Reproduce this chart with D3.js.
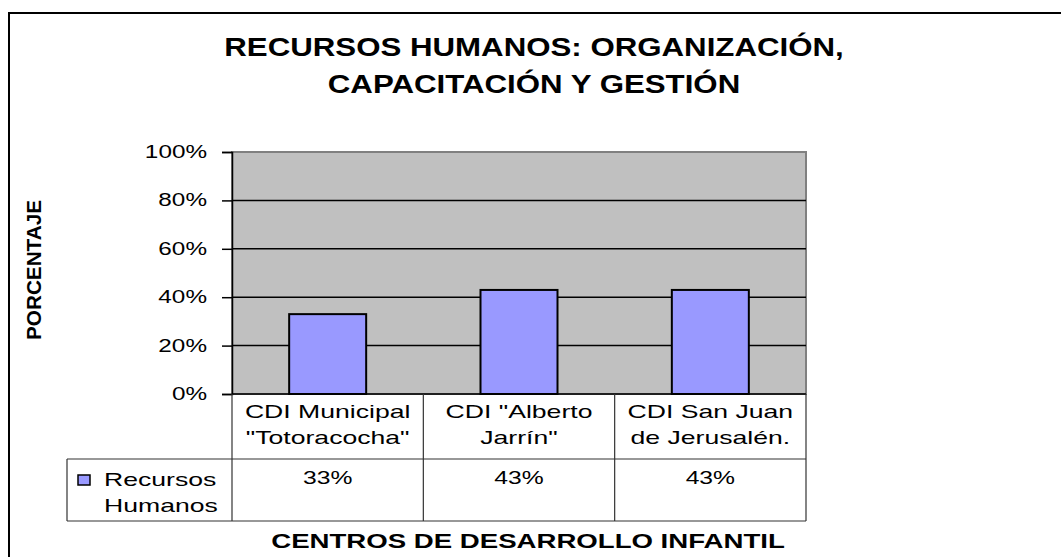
<!DOCTYPE html>
<html>
<head>
<meta charset="utf-8">
<script src="https://cdn.jsdelivr.net/npm/d3@7"></script>
<style>
    body { margin: 0; background: #fff; }
    svg { display: block; font-family: "Liberation Sans", Arial, sans-serif; }
</style>
</head>
<body>
<div id="my-dataviz"></div>
<script>
const categories = [
    ["CDI Municipal", "\"Totoracocha\""],
    ["CDI \"Alberto", "Jarrín\""],
    ["CDI San Juan", "de Jerusalén."]
];
const seriesName = ["Recursos", "Humanos"];
const values = [0.33, 0.43, 0.43];
const yTicks = [0, 0.2, 0.4, 0.6, 0.8, 1];
const titleLines = ["RECURSOS HUMANOS: ORGANIZACIÓN,", "CAPACITACIÓN Y GESTIÓN"];
const yTitle = "PORCENTAJE";
const xTitle = "CENTROS DE DESARROLLO INFANTIL";

let width = 1061, height = 557;
let plot = {left: 232, right: 806, top: 152, bottom: 394};
let row1 = 459, row2 = 521, legendLeft = 67;

let svg = d3.select("#my-dataviz")
    .append("svg")
    .attr("width", width)
    .attr("height", height);

// outer chart frame
svg.append("rect")
    .attr("x", 9).attr("y", 13)
    .attr("width", width).attr("height", height)
    .attr("fill", "none")
    .attr("stroke", "#000")
    .attr("stroke-width", 2);

// the source picture is stretched sideways, so text gets a horizontal scale
function addText(x, y, txt, size, sx, weight, anchor) {
    return svg.append("text")
        .attr("transform", "translate(" + x + "," + y + ") scale(" + sx + ",1)")
        .attr("text-anchor", anchor || "middle")
        .style("font-size", size + "px")
        .style("font-weight", weight || "normal")
        .attr("fill", "#000")
        .text(txt);
}

// title
titleLines.forEach((t, i) => addText(534, 56 + i * 37, t, 25, 1.25, "bold"));

let x = d3.scaleBand()
    .domain(d3.range(categories.length))
    .range([plot.left, plot.right])
    .paddingInner(0)
    .paddingOuter(0);

let y = d3.scaleLinear()
    .domain([0, 1])
    .range([plot.bottom, plot.top]);

// plot area
svg.append("rect")
    .attr("x", plot.left).attr("y", plot.top)
    .attr("width", plot.right - plot.left)
    .attr("height", plot.bottom - plot.top)
    .attr("fill", "#c0c0c0")
    .attr("stroke", "#808080")
    .attr("stroke-width", 2);

// gridlines
svg.append("g")
    .selectAll("line")
    .data(yTicks.filter(d => d > 0 && d < 1))
    .enter()
    .append("line")
    .attr("x1", plot.left).attr("x2", plot.right)
    .attr("y1", d => y(d)).attr("y2", d => y(d))
    .attr("stroke", "#000")
    .attr("stroke-width", 1.5);

// y axis
let yAxis = svg.append("g")
    .attr("transform", "translate(" + plot.left + ",0)")
    .call(d3.axisLeft(y).tickValues(yTicks).tickSize(10).tickFormat(""));
yAxis.select(".domain").attr("stroke", "#000").attr("stroke-width", 1.5);
yAxis.selectAll(".tick line").attr("stroke", "#000").attr("stroke-width", 1.5);

yTicks.forEach(t => addText(207, y(t) + 6, d3.format(".0%")(t), 18, 1.35, "normal", "end"));

// bars
let barW = 77;
svg.append("g")
    .selectAll("rect")
    .data(values)
    .enter()
    .append("rect")
    .attr("x", (d, i) => x(i) + (x.bandwidth() - barW) / 2)
    .attr("y", d => y(d))
    .attr("width", barW)
    .attr("height", d => y(0) - y(d))
    .attr("fill", "#9999ff")
    .attr("stroke", "#000")
    .attr("stroke-width", 2);

// data table
let tbl = svg.append("g").attr("stroke", "#333").attr("stroke-width", 1.2);
tbl.append("line").attr("x1", plot.left).attr("x2", plot.right).attr("y1", plot.bottom).attr("y2", plot.bottom).attr("stroke", "#000").attr("stroke-width", 1.5);
tbl.append("line").attr("x1", legendLeft).attr("x2", plot.right).attr("y1", row1).attr("y2", row1);
tbl.append("line").attr("x1", legendLeft).attr("x2", plot.right).attr("y1", row2).attr("y2", row2);
tbl.append("line").attr("x1", legendLeft).attr("x2", legendLeft).attr("y1", row1).attr("y2", row2);
d3.range(categories.length + 1).forEach(i => {
    let xx = i < categories.length ? x(i) : plot.right;
    tbl.append("line").attr("x1", xx).attr("x2", xx).attr("y1", plot.bottom).attr("y2", row2);
});

categories.forEach((c, i) => {
    let cx = x(i) + x.bandwidth() / 2;
    c.forEach((line, j) => addText(cx, 418 + j * 26, line, 19, 1.4));
    addText(cx, 484, d3.format(".0%")(values[i]), 19, 1.3);
});

// legend key
svg.append("rect")
    .attr("x", 78).attr("y", 475)
    .attr("width", 12).attr("height", 10)
    .attr("fill", "#9999ff")
    .attr("stroke", "#000")
    .attr("stroke-width", 1.5);
seriesName.forEach((s, j) => addText(104, 486 + j * 26, s, 19, 1.4, "normal", "start"));

// axis titles
addText(528, 548, xTitle, 20, 1.38, "bold");
svg.append("text")
    .attr("transform", "translate(41,270) rotate(-90)")
    .attr("text-anchor", "middle")
    .style("font-size", "21px")
    .style("font-weight", "bold")
    .attr("textLength", 140)
    .attr("lengthAdjust", "spacingAndGlyphs")
    .text(yTitle);
</script>
</body>
</html>
